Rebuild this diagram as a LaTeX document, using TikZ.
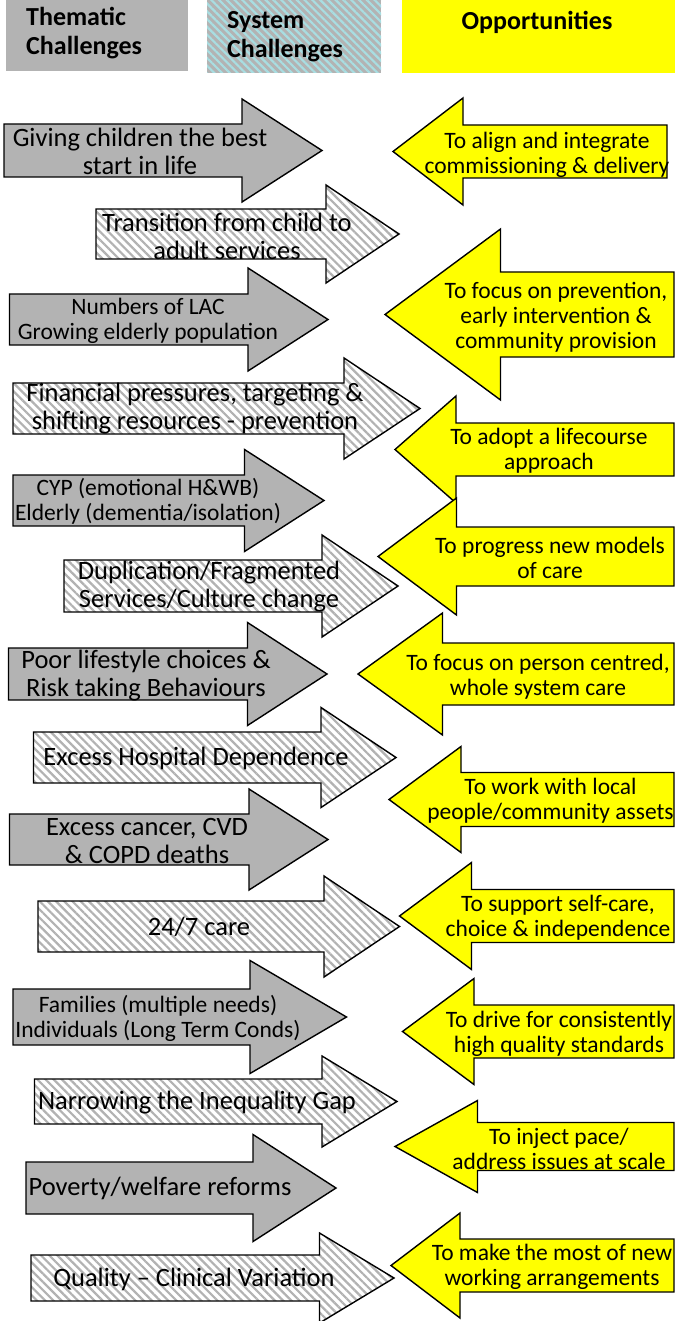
\documentclass[tikz,border=0pt]{standalone}
\usepackage{fontspec}
\setmainfont{Carlito}
\usepackage{tikz}
\usetikzlibrary{patterns.meta}

\definecolor{themegrey}{RGB}{179,179,179}
\definecolor{hatchgrey}{RGB}{178,178,178}
\definecolor{stripecyan}{RGB}{168,222,226}
\definecolor{oppyellow}{RGB}{255,255,0}

% left arrows: style, left x, head base x, tip x, centre y, half shaft, half head
\newcommand{\challenge}[7]{\draw[#1] (#2,#5-#6) -- (#3,#5-#6) -- (#3,#5-#7) -- (#4,#5) -- (#3,#5+#7) -- (#3,#5+#6) -- (#2,#5+#6) -- cycle;}
% right arrows: tip x, head base x, right x, centre y, half shaft, half head
\newcommand{\opportunity}[6]{\draw[opp] (#1,#4) -- (#2,#4-#6) -- (#2,#4-#5) -- (#3,#4-#5) -- (#3,#4+#5) -- (#2,#4+#5) -- (#2,#4+#6) -- cycle;}

\begin{document}
\begin{tikzpicture}[x=1pt, y=-1pt,
	thematic/.style={draw=black, line width=1.4pt, fill=themegrey},
	system/.style={draw=black, line width=1.4pt, preaction={fill=white}, pattern={Lines[angle=-45,distance=5.8pt,line width=2.2pt]}, pattern color=hatchgrey},
	opp/.style={draw=black, line width=1.4pt, fill=oppyellow},
	bigtxt/.style={align=center, inner sep=0pt, font=\fontsize{26.5}{28}\selectfont},
	smalltxt/.style={align=center, inner sep=0pt, font=\fontsize{23.5}{25}\selectfont},
	opptxt/.style={align=center, inner sep=0pt, font=\fontsize{23.5}{25}\selectfont},
	hdr/.style={inner sep=0pt, font=\fontsize{26}{29}\selectfont\bfseries}]
\useasboundingbox (0,0) rectangle (675,1321);
\clip (0,0) rectangle (675,1321);

% key
\fill[themegrey] (6,0) rectangle (188,71);
\path[fill=themegrey, postaction={pattern={Lines[angle=-45,distance=5.5pt,line width=2.2pt]}, pattern color=stripecyan}] (207,0) rectangle (381,73);
\fill[oppyellow] (402,0) rectangle (675,73);
\node[hdr, anchor=west, align=left] (thematic) at (26,33) {Thematic\\Challenges};
\node[hdr, anchor=west, align=left] (system) at (227,37) {System\\Challenges};
\node[hdr] (opps) at (537,22) {Opportunities};

% challenges
\challenge{thematic}{4}{242}{322}{150.5}{26.5}{51.5}
\challenge{system}{96}{326}{399}{234}{25}{49}
\challenge{thematic}{9.5}{248}{328}{319.5}{25.5}{51.5}
\challenge{system}{13}{344}{420}{408.5}{25.5}{50.5}
\challenge{thematic}{13}{244.5}{324}{500.5}{25.5}{51}
\challenge{system}{64}{322}{398}{586}{26}{51}
\challenge{thematic}{8.5}{247.5}{327}{674}{26}{51.5}
\challenge{system}{33.5}{321}{396}{757.5}{25.5}{50}
\challenge{thematic}{9.5}{249}{328}{839.5}{25.5}{50.5}
\challenge{system}{38}{324}{399.5}{926.5}{25.5}{50.5}
\challenge{thematic}{13}{250}{346.5}{1017}{28}{56.5}
\challenge{system}{34.5}{322}{397}{1101.5}{22.5}{45.5}
\challenge{thematic}{26}{253}{336}{1188}{26}{53.5}
\challenge{system}{31}{319.5}{394}{1278}{23}{45}

\node[bigtxt] (giving) at (140,151) {Giving children the best\\start in life};
\node[bigtxt] (transition) at (227,236) {Transition from child to\\adult services};
\node[smalltxt] (lac) at (148,321) {Numbers of LAC\\Growing elderly population};
\node[bigtxt] (financial) at (195,409) {Financial pressures, targeting \&\\shifting resources - prevention};
\node[smalltxt] (cyp) at (148,501) {CYP (emotional H\&WB)\\Elderly (dementia/isolation)};
\node[bigtxt] (duplication) at (209,587) {Duplication/Fragmented\\Services/Culture change};
\node[bigtxt] (lifestyle) at (146,676) {Poor lifestyle choices \&\\Risk taking Behaviours};
\node[bigtxt] (hospital) at (196,758) {Excess Hospital Dependence};
\node[bigtxt] (deaths) at (147,841) {Excess cancer, CVD\\\& COPD deaths};
\node[bigtxt] (care) at (199,927) {24/7 care};
\node[smalltxt] (families) at (158,1018) {Families (multiple needs)\\Individuals (Long Term Conds)};
\node[bigtxt] (inequality) at (197,1103) {Narrowing the Inequality Gap};
\node[bigtxt] (poverty) at (160,1188) {Poverty/welfare reforms};
\node[bigtxt] (quality) at (194,1279) {Quality – Clinical Variation};

% opportunities
\opportunity{393}{463}{667}{151.5}{26.5}{53.5}
\opportunity{385}{500.5}{674}{314.5}{42.5}{85.5}
\opportunity{395}{456}{674}{449.5}{26.5}{53.5}
\opportunity{378}{456.5}{674}{556.5}{29.5}{58.5}
\opportunity{358}{442.5}{674}{674}{31}{61}
\opportunity{389}{461}{674}{799.5}{27}{53}
\opportunity{399.5}{471.5}{674}{916}{26.5}{53.5}
\opportunity{402.5}{474}{674}{1031.5}{26.5}{53}
\opportunity{395}{477.5}{674}{1146.5}{24}{46}
\opportunity{391}{460}{674}{1265.5}{26.5}{52.5}

\node[opptxt] (align) at (547,155) {To align and integrate\\commissioning \& delivery};
\node[opptxt] (prevention) at (556,317) {To focus on prevention,\\early intervention \&\\community provision};
\node[opptxt] (lifecourse) at (549,451) {To adopt a lifecourse\\approach};
\node[opptxt] (models) at (550,558) {To progress new models\\of care};
\node[opptxt] (person) at (538,677) {To focus on person centred,\\whole system care};
\node[opptxt] (assets) at (550.5,801) {To work with local\\people/community assets};
\node[opptxt] (selfcare) at (558,918) {To support self-care,\\choice \& independence};
\node[opptxt] (standards) at (559,1034) {To drive for consistently\\high quality standards};
\node[opptxt] (pace) at (559,1149) {To inject pace/\\address issues at scale};
\node[opptxt] (arrangements) at (552,1267) {To make the most of new\\working arrangements};
\end{tikzpicture}
\end{document}
